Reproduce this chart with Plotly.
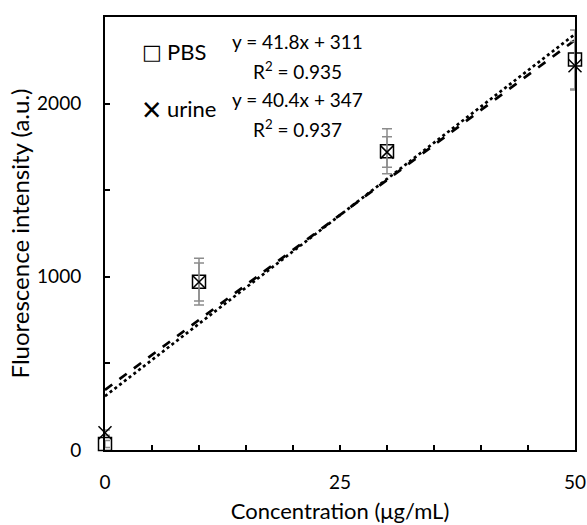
import plotly.graph_objects as go

# Data
concentration = [0, 10, 30, 50]
pbs_values = [35, 972, 1725, 2255]
pbs_errors = [20, 135, 130, 170]
urine_values = [100, 970, 1720, 2218]
urine_errors = [15, 110, 88, 140]

fit_x = [0, 50]
pbs_fit = (41.8, 311)
urine_fit = (40.4, 347)

FONT = "Lato"

fig = go.Figure()

# fit lines
fig.add_trace(go.Scatter(
    x=fit_x, y=[pbs_fit[0] * x + pbs_fit[1] for x in fit_x],
    mode="lines", line=dict(color="black", width=2.7, dash="dot"),
    showlegend=False, hoverinfo="skip"))
fig.add_trace(go.Scatter(
    x=fit_x, y=[urine_fit[0] * x + urine_fit[1] for x in fit_x],
    mode="lines", line=dict(color="black", width=2.7, dash="dash"),
    showlegend=False, hoverinfo="skip"))

# data points
fig.add_trace(go.Scatter(
    x=concentration, y=pbs_values, mode="markers", name="PBS",
    marker=dict(symbol="square-open", size=13, color="black", line=dict(width=1.5, color="black")),
    error_y=dict(type="data", array=pbs_errors, color="#8c8c8c", thickness=1.5, width=5),
    cliponaxis=False, showlegend=False))
fig.add_trace(go.Scatter(
    x=concentration, y=urine_values, mode="markers", name="urine",
    marker=dict(symbol="x-thin-open", size=13, color="black", line=dict(width=1.5, color="black")),
    error_y=dict(type="data", array=urine_errors, color="#8c8c8c", thickness=1.5, width=5),
    cliponaxis=False, showlegend=False))

L, R, T, B = 105, 12, 17, 75
W, H = 587, 525
pw, ph = W - L - R, H - T - B


def px(x):
    return (x - L) / pw


def py(y):
    return (H - B - y) / ph


annotations = [
    dict(text="□", x=px(151.5), y=py(52), xanchor="center", yanchor="middle", font=dict(size=21, family="DejaVu Sans")),
    dict(text="×", x=px(151.5), y=py(109), xanchor="center", yanchor="middle", font=dict(size=34, family="Noto Sans")),
    dict(text="PBS", x=px(165), y=py(51), xanchor="left", yanchor="middle", font=dict(size=22)),
    dict(text="urine", x=px(165), y=py(108), xanchor="left", yanchor="middle", font=dict(size=22)),
    dict(text="y = 41.8x + 311", x=px(297), y=py(42), xanchor="center", yanchor="middle", font=dict(size=19)),
    dict(text="R<sup>2</sup> = 0.935", x=px(297), y=py(70), xanchor="center", yanchor="middle", font=dict(size=19)),
    dict(text="y = 40.4x + 347", x=px(297), y=py(100), xanchor="center", yanchor="middle", font=dict(size=19)),
    dict(text="R<sup>2</sup> = 0.937", x=px(297), y=py(128), xanchor="center", yanchor="middle", font=dict(size=19)),
]
for a in annotations:
    a.update(xref="paper", yref="paper", showarrow=False)
    a["font"].setdefault("family", FONT)
    a["font"]["color"] = "black"

fig.update_layout(
    width=W, height=H,
    margin=dict(l=L, r=R, t=T, b=B),
    paper_bgcolor="white", plot_bgcolor="white",
    font=dict(family=FONT, color="black", size=19),
    annotations=annotations,
    showlegend=False,
)
fig.update_xaxes(
    range=[0, 50], tickvals=[0, 25, 50], showgrid=False, zeroline=False, automargin=False,
    showline=True, linecolor="black", linewidth=2, mirror=True,
    ticks="inside", ticklen=5, tickcolor="black", tickwidth=1.5,
    minor=dict(dtick=5, ticks="inside", ticklen=5, tickcolor="black", tickwidth=1.5, showgrid=False),
    tickfont=dict(size=19), ticklabelstandoff=14,
    title=dict(text="Concentration (μg/mL)", font=dict(size=22), standoff=12),
)
fig.update_yaxes(
    range=[0, 2500], tickvals=[0, 1000, 2000], showgrid=False, zeroline=False, automargin=False,
    showline=True, linecolor="black", linewidth=2, mirror=True,
    ticks="inside", ticklen=5, tickcolor="black", tickwidth=1.5,
    minor=dict(dtick=500, ticks="inside", ticklen=5, tickcolor="black", tickwidth=1.5, showgrid=False),
    tickfont=dict(size=19), ticklabelstandoff=18,
    title=dict(text="Fluorescence intensity (a.u.)", font=dict(size=24), standoff=1),
)

fig.write_html("out.html")
